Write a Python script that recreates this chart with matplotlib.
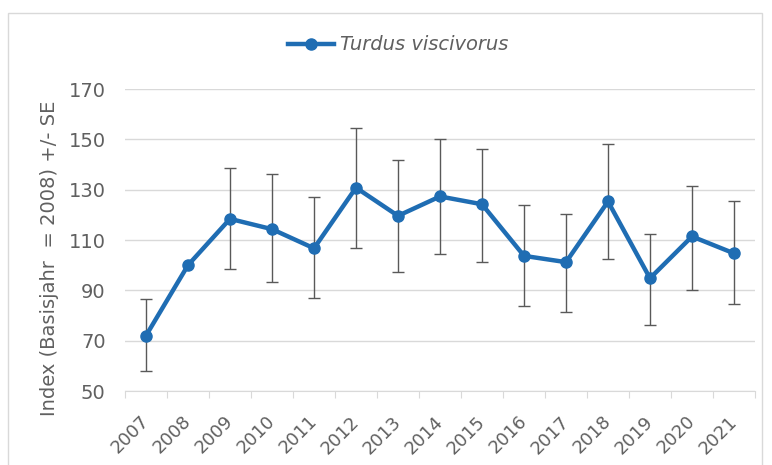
import numpy as np
import matplotlib.pyplot as plt
from matplotlib.patches import Rectangle

# index values per year, with lower / upper SE bounds
years = ['2007', '2008', '2009', '2010', '2011', '2012', '2013', '2014',
         '2015', '2016', '2017', '2018', '2019', '2020', '2021']
index_vals = [72, 100, 118.4, 114.3, 106.7, 130.8, 119.6, 127.3,
              124.2, 103.7, 101.2, 125.3, 94.8, 111.4, 104.7]
se_low = [57.8, 100, 98.5, 93.5, 87.1, 107.0, 97.2, 104.4,
          101.2, 83.9, 81.4, 102.4, 76.2, 90.2, 84.6]
se_high = [86.5, 100, 138.5, 136.2, 127.1, 154.7, 141.7, 150.0,
           146.2, 124.0, 120.2, 148.2, 112.4, 131.6, 125.3]

blue = '#1f6db3'
grey_text = '#606060'

fig = plt.figure(figsize=(7.72, 4.65), dpi=100)
ax = fig.add_axes([125 / 772, 1 - 391 / 465, 630 / 772, 302 / 465])

# outer chart frame
fig.patches.append(Rectangle((8 / 772, -0.02), 754 / 772, 1 - 13 / 465 + 0.02,
                             transform=fig.transFigure, fill=False,
                             edgecolor='#d9d9d9', linewidth=1))

x = np.arange(len(years))
vals = np.array(index_vals)
yerr = np.vstack([vals - np.array(se_low), np.array(se_high) - vals])
# no error bar for the base year
mask = yerr.sum(axis=0) > 0

ax.errorbar(x[mask], vals[mask], yerr=yerr[:, mask], fmt='none',
            ecolor='#595959', elinewidth=1, capsize=4, capthick=1, zorder=2)
ax.plot(x, vals, color=blue, linewidth=3.2, marker='o', markersize=8,
        label='Turdus viscivorus', zorder=3)

ax.set_ylim(50, 170)
ax.set_yticks(np.arange(50, 171, 20))
ax.set_xlim(-0.5, len(years) - 0.5)
ax.yaxis.grid(True, color='#d9d9d9', linewidth=1)
ax.set_axisbelow(True)

for s in ['top', 'right', 'left']:
    ax.spines[s].set_visible(False)
ax.spines['bottom'].set_color('#d9d9d9')

# category ticks sit between years, labels at year centres
ax.set_xticks(np.arange(-0.5, len(years), 1), minor=False)
ax.set_xticklabels([])
ax.set_xticks(x, minor=True)
ax.set_xticklabels(years, minor=True, rotation=45, ha='right', va='center',
                   rotation_mode='anchor', fontsize=13, color=grey_text)
ax.tick_params(axis='x', which='major', length=5, color='#d9d9d9', direction='out')
ax.tick_params(axis='x', which='minor', length=0, pad=20)
ax.tick_params(axis='y', length=0, labelsize=14, labelcolor=grey_text, pad=14)

ax.set_ylabel('Index (Basisjahr  = 2008) +/- SE', fontsize=14, color=grey_text)
ax.yaxis.set_label_coords((59 - 125) / 630, (391 - 258) / 302)

leg = ax.legend(loc='center', bbox_to_anchor=(398 / 772, 1 - 45 / 465),
                bbox_transform=fig.transFigure, frameon=False, fontsize=14,
                handlelength=2.4, handletextpad=0.3)
for t in leg.get_texts():
    t.set_fontstyle('italic')
    t.set_color(grey_text)

fig.savefig('out.png', dpi=100)
